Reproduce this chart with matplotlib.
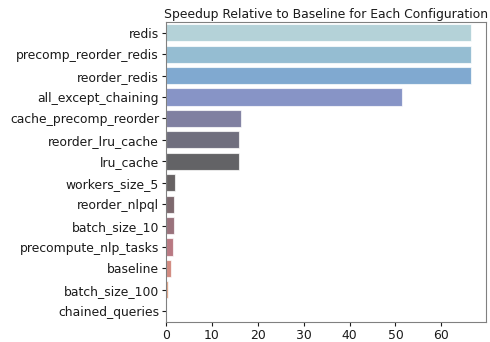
import matplotlib
matplotlib.use("Agg")
import matplotlib.pyplot as plt
import seaborn as sns

configs = ["redis", "precomp_reorder_redis", "reorder_redis", "all_except_chaining",
           "cache_precomp_reorder", "reorder_lru_cache", "lru_cache", "workers_size_5",
           "reorder_nlpql", "batch_size_10", "precompute_nlp_tasks", "baseline",
           "batch_size_100", "chained_queries"]
speedup = [66.4, 66.4, 66.4, 51.5, 16.3, 16.0, 16.0, 1.9, 1.75, 1.7, 1.45, 1.0, 0.5, 0.1]

colors = [sns.desaturate(c, 0.75) for c in sns.color_palette("icefire", len(configs))]

fig = plt.figure(figsize=(4.9, 3.42), dpi=100)
ax = fig.add_axes([0.3388, 0.0585, 0.653, 0.877])
bars = ax.barh(configs, speedup, color=colors, alpha=0.7, height=0.8,
               edgecolor=(1, 1, 1, 0.5), linewidth=0.8)
ax.set_ylim(13.5, -0.5)
ax.set_title("Speedup Relative to Baseline for Each Configuration", fontsize=8.9, pad=3,
             color="#1a1a1a")
ax.tick_params(labelsize=8.9, colors="#1a1a1a", length=3)
ax.tick_params(axis="y", pad=2)
ax.tick_params(axis="x", pad=2)
for s in ax.spines.values():
    s.set_color("#808080")
fig.savefig("out.png", dpi=100)
